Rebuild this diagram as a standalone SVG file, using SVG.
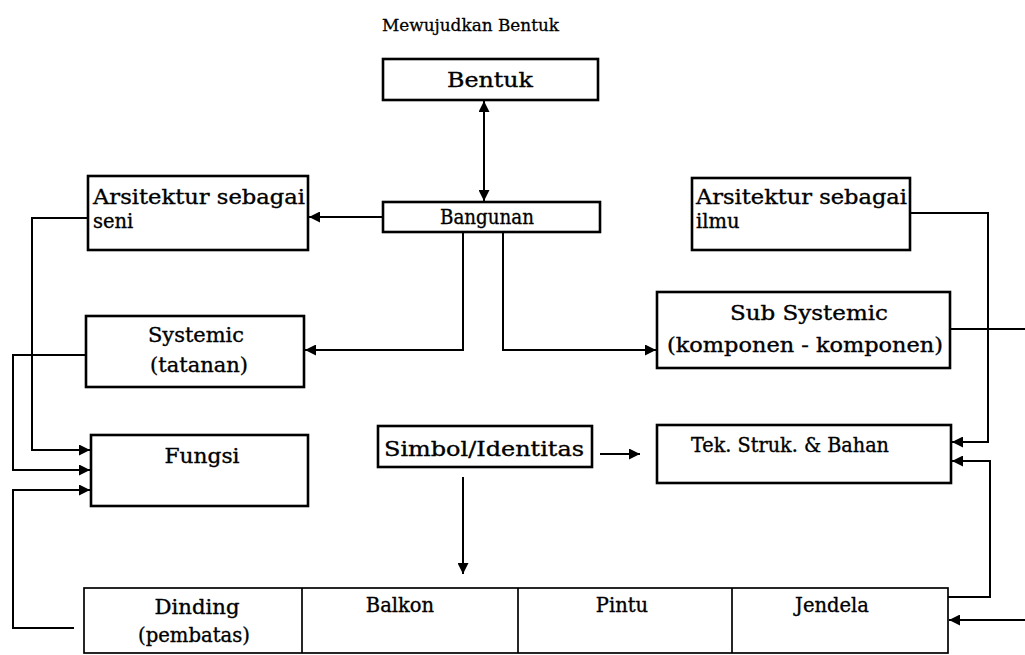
<svg xmlns="http://www.w3.org/2000/svg" width="1025" height="655" viewBox="0 0 1025 655">
<defs>
<style>
.box{fill:none;stroke:#000;stroke-width:2.6}
.thin{fill:none;stroke:#000;stroke-width:1.7}
.c{fill:none;stroke:#000;stroke-width:2}
text{font-family:"DejaVu Serif","Liberation Serif",serif;font-size:19.5px;fill:#000;stroke:#000;stroke-width:0.35}
.m{text-anchor:middle}
.t{font-size:17px;stroke-width:0.28}
</style>
<marker id="ah" viewBox="0 0 10 10" refX="10" refY="5" markerWidth="5.5" markerHeight="5.5" orient="auto-start-reverse" markerUnits="strokeWidth">
<path d="M0,0 L10,5 L0,10 Z" fill="#000"/>
</marker>
</defs>
<rect width="1025" height="655" fill="#fff"/>
<text class="t" x="382" y="31" textLength="177" lengthAdjust="spacingAndGlyphs">Mewujudkan Bentuk</text>

<g id="connectors">
<line class="c" x1="484" y1="101" x2="484" y2="201" marker-start="url(#ah)" marker-end="url(#ah)"/>
<line class="c" x1="383" y1="217" x2="309" y2="217" marker-end="url(#ah)"/>
<polyline class="c" points="463,232 463,350 305,350" marker-end="url(#ah)"/>
<polyline class="c" points="503,232 503,350 656,350" marker-end="url(#ah)"/>
<polyline class="c" points="88,218 32,218 32,450 90,450" marker-end="url(#ah)"/>
<polyline class="c" points="86,355 13,355 13,470 90,470" marker-end="url(#ah)"/>
<polyline class="c" points="74,628 13,628 13,490 90,490" marker-end="url(#ah)"/>
<polyline class="c" points="910,213 988,213 988,442 952,442" marker-end="url(#ah)"/>
<polyline class="c" points="948,597 990,597 990,461 952,461" marker-end="url(#ah)"/>
<line class="c" x1="950" y1="329" x2="1025" y2="329"/>
<line class="c" x1="1025" y1="620" x2="949" y2="620" marker-end="url(#ah)"/>
<line class="c" x1="600" y1="454" x2="640" y2="454" marker-end="url(#ah)"/>
<line class="c" x1="463" y1="477" x2="463" y2="574" marker-end="url(#ah)"/>
</g>

<g id="bentuk">
<rect class="box" x="383" y="59" width="215" height="41"/>
<text class="m" x="490" y="87" textLength="86" lengthAdjust="spacingAndGlyphs">Bentuk</text>
</g>
<g id="bangunan">
<rect class="box" x="383" y="202" width="217" height="30"/>
<text class="m" x="487" y="224" textLength="94" lengthAdjust="spacingAndGlyphs">Bangunan</text>
</g>
<g id="seni">
<rect class="box" x="88" y="176" width="220" height="74"/>
<text x="93" y="204" textLength="212" lengthAdjust="spacingAndGlyphs">Arsitektur sebagai</text>
<text x="93" y="228">seni</text>
</g>
<g id="ilmu">
<rect class="box" x="692" y="178" width="218" height="72"/>
<text x="696" y="204" textLength="211" lengthAdjust="spacingAndGlyphs">Arsitektur sebagai</text>
<text x="696" y="228">ilmu</text>
</g>
<g id="systemic">
<rect class="box" x="86" y="316" width="218" height="71"/>
<text class="m" x="196" y="342" textLength="96" lengthAdjust="spacingAndGlyphs">Systemic</text>
<text class="m" x="199" y="372" textLength="98" lengthAdjust="spacingAndGlyphs">(tatanan)</text>
</g>
<g id="subsystemic">
<rect class="box" x="657" y="292" width="293" height="76"/>
<text class="m" x="809" y="320" textLength="158" lengthAdjust="spacingAndGlyphs">Sub Systemic</text>
<text class="m" x="805" y="352" textLength="276" lengthAdjust="spacingAndGlyphs">(komponen - komponen)</text>
</g>
<g id="fungsi">
<rect class="box" x="91" y="435" width="217" height="71"/>
<text class="m" x="202" y="463" textLength="75" lengthAdjust="spacingAndGlyphs">Fungsi</text>
</g>
<g id="simbol">
<rect class="box" x="378" y="426" width="214" height="41"/>
<text class="m" x="484" y="456" textLength="200" lengthAdjust="spacingAndGlyphs">Simbol/Identitas</text>
</g>
<g id="tek">
<rect class="box" x="657" y="425" width="294" height="58"/>
<text class="m" x="790" y="452" textLength="198" lengthAdjust="spacingAndGlyphs">Tek. Struk. &amp; Bahan</text>
</g>
<g id="elemen">
<rect class="thin" x="84" y="588" width="864" height="65"/>
<line class="thin" x1="302" y1="588" x2="302" y2="653"/>
<line class="thin" x1="518" y1="588" x2="518" y2="653"/>
<line class="thin" x1="732" y1="588" x2="732" y2="653"/>
<text class="m" x="197" y="614" textLength="85" lengthAdjust="spacingAndGlyphs">Dinding</text>
<text class="m" x="194" y="642" textLength="112" lengthAdjust="spacingAndGlyphs">(pembatas)</text>
<text class="m" x="400" y="612">Balkon</text>
<text class="m" x="622" y="612">Pintu</text>
<text class="m" x="832" y="612">Jendela</text>
</g>
</svg>
